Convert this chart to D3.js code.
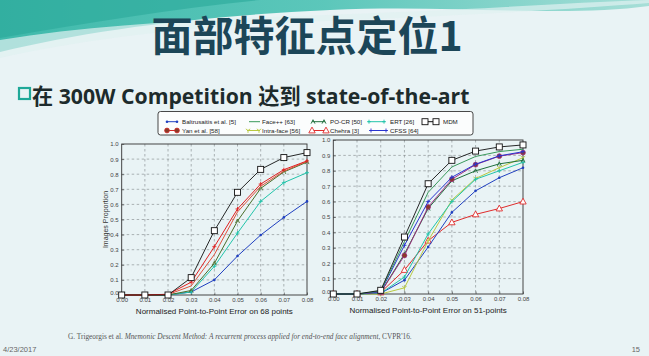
<!DOCTYPE html>
<html><head><meta charset="utf-8">
<script src="https://cdn.jsdelivr.net/npm/d3@7"></script>
<style>html,body{margin:0;padding:0;background:#e8f2f4;}svg{display:block}</style>
</head><body><svg id="c" width="649" height="356"></svg>
<script>
// ---------- data ----------
const xValues = [0,0.01,0.02,0.03,0.04,0.05,0.06,0.07,0.08];
const xTickLabels = ["0.00","0.01","0.02","0.03","0.04","0.05","0.06","0.07","0.08"];
const yTickValues = [0,0.1,0.2,0.3,0.4,0.5,0.6,0.7,0.8,0.9,1.0];
const yTickLabels = ["0.0","0.1","0.2","0.3","0.4","0.5","0.6","0.7","0.8","0.9","1.0"];

// 68-point curves (left panel)
const mdm68     = [0,0,0,0.115,0.426,0.68,0.832,0.91,0.943];
const yan68     = [0,0,0.005,0.085,0.32,0.57,0.735,0.83,0.888];
const faceRed68 = [0,0,0.003,0.06,0.268,0.55,0.72,0.82,0.885];
const pocr68    = [0,0,0,0.03,0.21,0.49,0.706,0.815,0.88];
const ert68     = [0,0,0,0.02,0.19,0.41,0.62,0.744,0.81];
const baltr68   = [0,0,0,0.02,0.10,0.258,0.397,0.514,0.62];

// 51-point curves (right panel)
const mdm51     = [0,0,0.024,0.37,0.716,0.868,0.928,0.955,0.968];
const face51    = [0,0,0.02,0.34,0.66,0.825,0.893,0.925,0.94];
const cfss51    = [0,0,0.015,0.316,0.60,0.758,0.843,0.897,0.924];
const yan51     = [0,0,0.01,0.25,0.565,0.745,0.84,0.895,0.918];
const pocr51    = [0,0,0.01,0.26,0.555,0.735,0.80,0.845,0.868];
const intra51   = [0,0,0,0.04,0.345,0.61,0.75,0.82,0.885];
const ert51     = [0,0,0.005,0.11,0.39,0.60,0.745,0.80,0.855];
const baltr51   = [0,0,0.005,0.09,0.305,0.53,0.67,0.755,0.82];
const chehra51  = [0,0,0.01,0.156,0.346,0.465,0.517,0.555,0.60];

const legendRow1 = ["Baltrusaitis et al. [5]","Face++ [63]","PO-CR [50]","ERT [26]","MDM"];
const legendRow2 = ["Yan et al. [58]","Intra-face [56]","Chehra [3]","CFSS [64]"];

const titleText = "面部特征点定位1";
const subtitleText = "在 300W Competition 达到 state-of-the-art";
const xLabelLeft = "Normalised Point-to-Point Error on 68 points";
const xLabelRight = "Normalised Point-to-Point Error on 51-points";
const yLabel = "Images Proportion";
const citeA = "G. Trigeorgis et al. ";
const citeB = "Mnemonic Descent Method: A recurrent process applied for end-to-end face alignment";
const citeC = ", CVPR'16.";
const dateText = "4/23/2017";
const pageText = "15";

// ---------- styles ----------
const styles = {
  "Baltrusaitis et al. [5]": {color:"#2040c0", marker:"dot"},
  "Face++ [63]": {color:"#3a9a5c", marker:"none"},
  "PO-CR [50]": {color:"#1f6e3c", marker:"caret"},
  "ERT [26]": {color:"#22c4aa", marker:"plus"},
  "MDM": {color:"#111111", marker:"square"},
  "Yan et al. [58]": {color:"#d42a2a", marker:"circle", fill:"#8a3a28"},
  "Intra-face [56]": {color:"#b9c940", marker:"tridown"},
  "Chehra [3]": {color:"#e02c2c", marker:"tri"},
  "CFSS [64]": {color:"#2a34d0", marker:"plus"}
};

const leftSeries = [
  {name:"Baltrusaitis et al. [5]", values:baltr68},
  {name:"ERT [26]", values:ert68},
  {name:"PO-CR [50]", values:pocr68, color:"#4a6e2a"},
  {name:"Face++ [63]", values:faceRed68, color:"#e0503a"},
  {name:"Yan et al. [58]", values:yan68, marker:"plus", color:"#e02020"},
  {name:"MDM", values:mdm68}
];
const rightSeries = [
  {name:"Chehra [3]", values:chehra51},
  {name:"Baltrusaitis et al. [5]", values:baltr51},
  {name:"Intra-face [56]", values:intra51},
  {name:"ERT [26]", values:ert51},
  {name:"PO-CR [50]", values:pocr51},
  {name:"Yan et al. [58]", values:yan51, color:"#a03080"},
  {name:"CFSS [64]", values:cfss51},
  {name:"Face++ [63]", values:face51},
  {name:"MDM", values:mdm51}
];

const svg = d3.select("#c");

// ---------- background ----------
const defs = svg.append("defs");
const g1 = defs.append("linearGradient").attr("id","sw").attr("x1","0").attr("x2","1").attr("y1","0").attr("y2","0");
g1.append("stop").attr("offset","0").attr("stop-color","#2db3a3");
g1.append("stop").attr("offset","0.5").attr("stop-color","#4cc2b4");
g1.append("stop").attr("offset","1").attr("stop-color","#9fdcd4");
svg.append("rect").attr("width",649).attr("height",356).attr("fill","#e9f3f5");
svg.append("path").attr("d","M0,0 L649,0 L649,6 C560,18 450,4 330,10 C200,16 90,30 0,52 Z").attr("fill","url(#sw)").attr("opacity",0.9);
svg.append("path").attr("d","M0,40 C120,20 260,18 400,12 C500,8 580,2 649,0 L649,3 C560,10 420,18 300,22 C180,27 80,40 0,58 Z").attr("fill","#dff1f1").attr("opacity",0.7);
svg.append("path").attr("d","M0,0 L260,0 C180,8 90,22 0,38 Z").attr("fill","#2aa99a").attr("opacity",0.6);

// ---------- title ----------
svg.append("text").attr("x",307).attr("y",51).attr("text-anchor","middle")
  .attr("font-family","'Noto Sans CJK SC', sans-serif").attr("font-weight",700)
  .attr("font-size",41).attr("fill","#1c4658").text(titleText);

svg.append("rect").attr("x",19).attr("y",88).attr("width",11).attr("height",11)
  .attr("fill","none").attr("stroke","#1fa898").attr("stroke-width",2.2);
svg.append("text").attr("x",32).attr("y",104)
  .attr("font-family","'Open Sans','Noto Sans CJK SC', sans-serif").attr("font-weight",700)
  .attr("font-size",21.2).attr("fill","#1d2b2c").text(subtitleText);

// ---------- marker drawing ----------
function drawMarker(g, type, cx, cy, color, fill) {
  if (type === "square") {
    g.append("rect").attr("x",cx-3).attr("y",cy-3).attr("width",6).attr("height",6)
      .attr("fill","#fff").attr("stroke",color).attr("stroke-width",0.9);
  } else if (type === "circle") {
    g.append("circle").attr("cx",cx).attr("cy",cy).attr("r",2.4)
      .attr("fill",fill||color).attr("stroke",color).attr("stroke-width",0.8);
  } else if (type === "dot") {
    g.append("circle").attr("cx",cx).attr("cy",cy).attr("r",1.3).attr("fill",color);
  } else if (type === "plus") {
    g.append("path").attr("d",`M${cx-2},${cy}H${cx+2}M${cx},${cy-2}V${cy+2}`)
      .attr("stroke",color).attr("stroke-width",0.9);
  } else if (type === "tri") {
    g.append("path").attr("d",`M${cx},${cy-3.4}L${cx+3.2},${cy+2.4}L${cx-3.2},${cy+2.4}Z`)
      .attr("fill","#fff").attr("stroke",color).attr("stroke-width",0.9);
  } else if (type === "tridown") {
    g.append("path").attr("d",`M${cx},${cy}V${cy+2.4}M${cx},${cy}L${cx-2.2},${cy-1.6}M${cx},${cy}L${cx+2.2},${cy-1.6}`)
      .attr("stroke",color).attr("stroke-width",0.9).attr("fill","none");
  } else if (type === "caret") {
    g.append("path").attr("d",`M${cx-2},${cy+2}L${cx},${cy-2}L${cx+2},${cy+2}`)
      .attr("stroke",color).attr("stroke-width",0.9).attr("fill","none");
  }
}

// ---------- panels ----------
function drawPanel(box, series, xLabel, showYLabel) {
  const x = d3.scaleLinear().domain([0,0.08]).range([box.x0, box.x1]);
  const y = d3.scaleLinear().domain([0,1]).range([box.yb, box.yt]);
  const g = svg.append("g");
  g.append("g").selectAll("line.v").data(xValues.slice(1,-1)).join("line")
    .attr("x1",d=>x(d)).attr("x2",d=>x(d)).attr("y1",box.yt).attr("y2",box.yb)
    .attr("stroke","#7d8486").attr("stroke-width",0.6).attr("stroke-dasharray","2.5,2.5");
  g.append("g").selectAll("line.h").data(yTickValues.slice(1,-1)).join("line")
    .attr("x1",box.x0).attr("x2",box.x1).attr("y1",d=>y(d)).attr("y2",d=>y(d))
    .attr("stroke","#7d8486").attr("stroke-width",0.6).attr("stroke-dasharray","2.5,2.5");
  const ax = d3.axisBottom(x).tickValues(xValues).tickFormat((d,i)=>xTickLabels[i]).tickSize(-2.5).tickPadding(3);
  const gx = g.append("g").attr("transform",`translate(0,${box.yb})`).call(ax);
  const ay = d3.axisLeft(y).tickValues(yTickValues).tickFormat((d,i)=>yTickLabels[i]).tickSize(-2.5).tickPadding(3);
  const gy = g.append("g").attr("transform",`translate(${box.x0},0)`).call(ay);
  [gx,gy].forEach(a=>{
    a.select(".domain").remove();
    a.selectAll("line").attr("stroke","#333").attr("stroke-width",0.6);
    a.selectAll("text").attr("font-family","'Liberation Sans', Arial, sans-serif")
      .attr("font-size",6).attr("fill","#444");
  });
  gx.selectAll("text").attr("dy","0.6em");
  gy.selectAll("text").filter((d,i)=>i===0).attr("dy","-0.1em");
  g.append("rect").attr("x",box.x0).attr("y",box.yt).attr("width",box.x1-box.x0).attr("height",box.yb-box.yt)
    .attr("fill","none").attr("stroke","#333").attr("stroke-width",0.9);
  const line = d3.line().x((d,i)=>x(xValues[i])).y(d=>y(d));
  series.forEach(s=>{
    const st = styles[s.name];
    const color = s.color || st.color;
    const marker = s.marker || st.marker;
    g.append("path").datum(s.values).attr("d",line).attr("fill","none")
      .attr("stroke",color).attr("stroke-width",s.name==="MDM"?0.9:1);
    const mg = g.append("g");
    s.values.forEach((v,i)=>drawMarker(mg, marker, x(xValues[i]), y(v), color, st.fill));
  });
  g.append("text").attr("x",(box.x0+box.x1)/2).attr("y",box.yb+18.5).attr("text-anchor","middle")
    .attr("font-family","'Liberation Sans', Arial, sans-serif").attr("font-size",8).attr("fill","#222").text(xLabel);
  if (showYLabel) {
    g.append("text").attr("transform",`translate(${box.x0-14},${(box.yt+box.yb)/2}) rotate(-90)`)
      .attr("text-anchor","middle").attr("font-family","'Liberation Sans', Arial, sans-serif")
      .attr("font-size",7).attr("fill","#333").text(yLabel);
  }
}

drawPanel({x0:121.7,x1:307,yt:144,yb:295}, leftSeries, xLabelLeft, true);
drawPanel({x0:333.3,x1:523,yt:140,yb:294}, rightSeries, xLabelRight, false);

// ---------- legend ----------
const lg = svg.append("g");
lg.append("rect").attr("x",158).attr("y",111.5).attr("width",315).attr("height",23.5).attr("rx",2.5)
  .attr("fill","#fbfdfd").attr("stroke","#333").attr("stroke-width",0.9);
const row1Pos = [{s:166,e:178,t:182},{s:249,e:260,t:262},{s:312,e:325,t:330},{s:368,e:385,t:390},{s:424,e:437,t:443}];
const row2Pos = [{s:166,e:178,t:182},{s:247,e:260,t:262},{s:311,e:327,t:330},{s:370,e:387,t:390}];
function legendRow(names, pos, yy) {
  names.forEach((n,i)=>{
    const st = styles[n], p = pos[i];
    lg.append("line").attr("x1",p.s).attr("x2",p.e).attr("y1",yy).attr("y2",yy).attr("stroke",st.color).attr("stroke-width",1);
    if (st.marker !== "none") { drawMarker(lg, st.marker, p.s+1, yy, st.color, st.fill); drawMarker(lg, st.marker, p.e-1, yy, st.color, st.fill); }
    lg.append("text").attr("x",p.t).attr("y",yy+2.1).attr("font-family","'Liberation Sans', Arial, sans-serif")
      .attr("font-size",6.2).attr("fill","#222").text(n);
  });
}
legendRow(legendRow1, row1Pos, 121.7);
legendRow(legendRow2, row2Pos, 130.5);

// ---------- footer ----------
const ft = svg.append("text").attr("x",68).attr("y",339).attr("font-family","'Liberation Serif', serif")
  .attr("font-size",7.3).attr("fill","#555");
ft.append("tspan").text(citeA);
ft.append("tspan").attr("font-style","italic").text(citeB);
ft.append("tspan").text(citeC);
svg.append("text").attr("x",3).attr("y",352).attr("font-family","'Liberation Sans', Arial, sans-serif")
  .attr("font-size",7.5).attr("fill","#666").text(dateText);
svg.append("text").attr("x",640).attr("y",352).attr("text-anchor","end").attr("font-family","'Liberation Sans', Arial, sans-serif")
  .attr("font-size",7.5).attr("fill","#666").text(pageText);
</script></body></html>
